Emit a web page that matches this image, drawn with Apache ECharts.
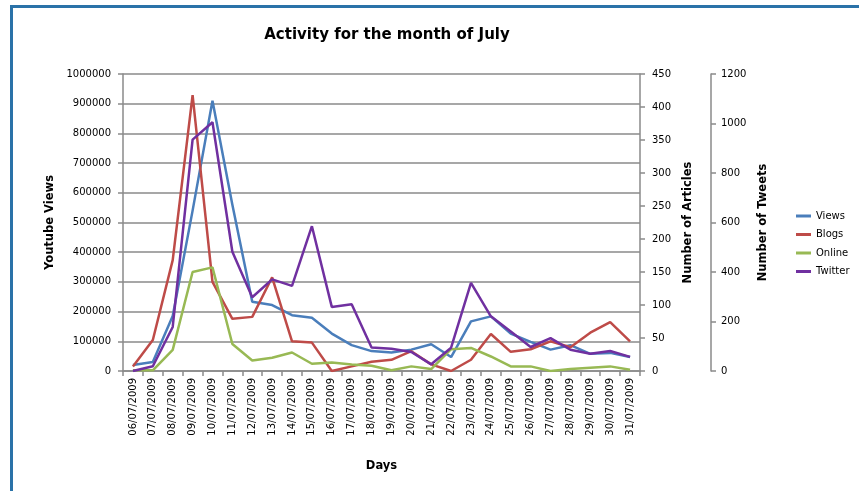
<!DOCTYPE html>
<html><head><meta charset="utf-8">
<script src="https://cdn.jsdelivr.net/npm/echarts@6/dist/echarts.min.js"></script>
<style>
html,body{margin:0;padding:0;background:#fff;}
#c{position:absolute;left:0;top:0;width:859px;height:491px;}
#frame{position:absolute;left:10px;top:5px;width:860px;height:500px;border-left:3px solid #2a72a8;border-top:3px solid #2a72a8;pointer-events:none;}
</style></head>
<body>
<div id="c"></div>
<div id="frame"></div>
<script>
const days = ['06/07/2009','07/07/2009','08/07/2009','09/07/2009','10/07/2009','11/07/2009','12/07/2009','13/07/2009','14/07/2009','15/07/2009','16/07/2009','17/07/2009','18/07/2009','19/07/2009','20/07/2009','21/07/2009','22/07/2009','23/07/2009','24/07/2009','25/07/2009','26/07/2009','27/07/2009','28/07/2009','29/07/2009','30/07/2009','31/07/2009'];
const views = [20000, 30000, 185000, 540000, 910000, 560000, 233000, 222000, 188000, 179000, 126000, 87000, 67000, 62000, 72000, 90000, 47000, 167000, 184000, 126000, 98000, 72000, 87000, 58000, 61000, 47000];
const blogs = [7, 47, 168, 418, 135, 79, 82, 142, 45, 43, 0, 7, 14, 17, 30, 10, 0, 17, 56, 29, 33, 45, 36, 58, 74, 45];
const online = [1, 1, 32, 150, 157, 41, 16, 20, 28, 11, 13, 10, 8, 1, 7, 3, 33, 35, 22, 7, 7, 0, 3, 5, 7, 2];
const twitter = [0, 19, 178, 935, 1005, 482, 298, 370, 344, 585, 259, 270, 95, 90, 77, 27, 94, 356, 221, 160, 97, 133, 86, 70, 81, 57];

const FONT = '"DejaVu Sans", sans-serif';
const axisGray = '#8a8a8a';
const chart = echarts.init(document.getElementById('c'), null, {renderer:'canvas'});
const lbl = {color:'#000', fontFamily:FONT, fontSize:10};
const nameStyle = {color:'#000', fontFamily:FONT, fontSize:11.5, fontWeight:'bold'};
const plain = v => String(v);
function mkY(extra, margin){
  return Object.assign({
    type:'value', min:0,
    axisLine:{show:true, lineStyle:{color:axisGray, width:1.5}},
    axisTick:{show:true, length:5, lineStyle:{color:axisGray, width:1.5}},
    axisLabel:Object.assign({margin:margin, formatter:plain}, lbl),
    nameLocation:'middle', nameTextStyle:nameStyle,
    splitLine:{show:false}
  }, extra);
}
chart.setOption({
  animation:false,
  title:{text:'Activity for the month of July', left:382, textAlign:'center', top:23,
    textStyle:{fontFamily:FONT, fontSize:15, fontWeight:'bold', color:'#000'}},
  grid:{left:123, right:219, top:74, bottom:120},
  legend:{orient:'vertical', left:791, top:206, itemWidth:15, itemHeight:3, itemGap:8.5,
    icon:'rect', textStyle:{fontFamily:FONT, fontSize:10, color:'#000'},
    data:['Views','Blogs','Online','Twitter']},
  xAxis:{type:'category', data:days, boundaryGap:true,
    name:'Days', nameLocation:'middle', nameGap:89, nameTextStyle:nameStyle,
    axisLine:{lineStyle:{color:axisGray, width:1.5}},
    axisTick:{show:true, interval:0, length:5, lineStyle:{color:axisGray, width:1.5}},
    axisLabel:Object.assign({rotate:90, interval:0, margin:7}, lbl)},
  yAxis:[
    mkY({position:'left', max:1000000, interval:100000, name:'Youtube Views', nameGap:67,
      splitLine:{show:true, lineStyle:{color:axisGray, width:1.5}}}, 12),
    mkY({position:'right', max:450, interval:50, name:'Number of Articles', nameGap:40, offset:0}, 12),
    mkY({position:'right', max:1200, interval:200, name:'Number of Tweets', nameGap:42, offset:71}, 10)
  ],
  series:[
    {name:'Views', type:'line', yAxisIndex:0, data:views, symbol:'none', color:'#4a7ebb', lineStyle:{width:2.5}},
    {name:'Blogs', type:'line', yAxisIndex:1, data:blogs, symbol:'none', color:'#be4b48', lineStyle:{width:2.5}},
    {name:'Online', type:'line', yAxisIndex:1, data:online, symbol:'none', color:'#98b954', lineStyle:{width:2.5}},
    {name:'Twitter', type:'line', yAxisIndex:2, data:twitter, symbol:'none', color:'#7030a0', lineStyle:{width:2.5}}
  ]
});
</script>
</body></html>
